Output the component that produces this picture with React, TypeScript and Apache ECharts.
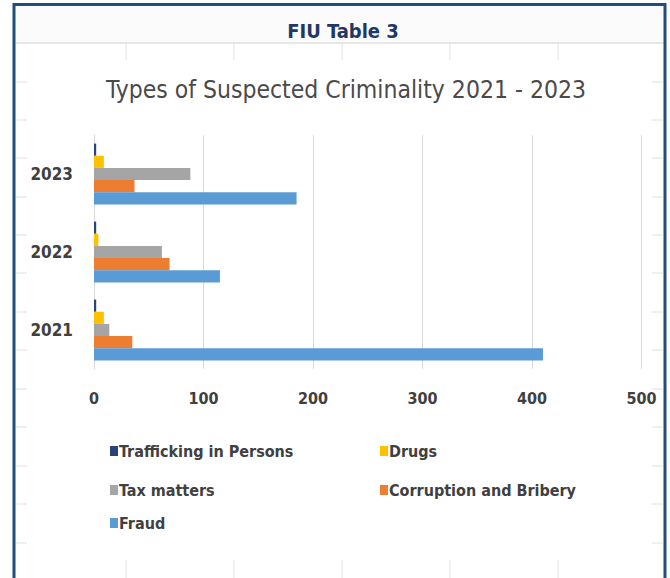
import React, { useEffect, useRef } from "react";
import * as echarts from "echarts";

const years = ["2021", "2022", "2023"];
const seriesNames = ["Trafficking in Persons", "Drugs", "Tax matters", "Corruption and Bribery", "Fraud"];
const trafficking = [2, 2, 2];
const drugs = [9, 4, 9];
const taxMatters = [14, 62, 88];
const corruption = [35, 69, 37];
const fraud = [410, 115, 185];
const xTicks = [0, 100, 200, 300, 400, 500];
const colors = ["#264478", "#FFC000", "#A5A5A5", "#ED7D31", "#5B9BD5"];

const FONT = "'DejaVu Sans Condensed', 'Liberation Sans Narrow', sans-serif";

export default function App() {
  const ref = useRef<HTMLDivElement>(null);
  useEffect(() => {
    if (!ref.current) return;
    const chart = echarts.init(ref.current, null, { renderer: "svg" });
    const values = [trafficking, drugs, taxMatters, corruption, fraud];
    const colXs = [126, 234, 342, 450, 558];
    const rowYs = [82, 120, 158, 197, 235, 273, 312, 350, 389, 427, 466, 504, 543];
    const bg: any[] = [];
    colXs.forEach((x) => {
      bg.push({ type: "line", shape: { x1: x, y1: 43, x2: x, y2: 60 }, style: { stroke: "#e0e0e0", lineWidth: 1 }, silent: true });
      bg.push({ type: "line", shape: { x1: x, y1: 560, x2: x, y2: 578 }, style: { stroke: "#e0e0e0", lineWidth: 1 }, silent: true });
    });
    rowYs.forEach((y) => {
      bg.push({ type: "line", shape: { x1: 16, y1: y, x2: 27, y2: y }, style: { stroke: "#e0e0e0", lineWidth: 1 }, silent: true });
      bg.push({ type: "line", shape: { x1: 652, y1: y, x2: 663, y2: y }, style: { stroke: "#e0e0e0", lineWidth: 1 }, silent: true });
    });
    const legendPos = [
      { left: 110, top: 443 },
      { left: 380, top: 443 },
      { left: 110, top: 482 },
      { left: 380, top: 482 },
      { left: 110, top: 515 },
    ];
    chart.setOption({
      animation: false,
      backgroundColor: "#ffffff",
      title: [
        {
          text: "FIU Table 3",
          left: 338,
          top: 16,
          textAlign: "center",
          textStyle: { fontFamily: FONT, fontSize: 20, fontWeight: "bold", color: "#1F3864" },
        },
        {
          text: "Types of Suspected Criminality 2021 - 2023",
          left: 341,
          top: 72,
          textAlign: "center",
          textStyle: { fontFamily: FONT, fontSize: 24.5, fontWeight: "normal", color: "#4a4a4a" },
        },
      ],
      graphic: [
        { type: "rect", shape: { x: 16, y: 6, width: 648, height: 37 }, style: { fill: "#fbfbfb" }, silent: true, z: -10 },
        { type: "line", shape: { x1: 16, y1: 43, x2: 664, y2: 43 }, style: { stroke: "#d0d0d0", lineWidth: 1 }, silent: true },
        ...bg,
        { type: "polyline", shape: { points: [[14, 578], [14, 4.5], [665, 4.5], [665, 578]] }, style: { stroke: "#1F4E79", lineWidth: 3, fill: null }, silent: true, z: 100 },
      ],
      legend: seriesNames.map((n, i) => ({
        data: [n],
        left: legendPos[i].left,
        top: legendPos[i].top,
        icon: "rect",
        itemWidth: 8,
        itemHeight: 10,
        itemGap: 4,
        padding: 0,
        textStyle: { fontFamily: FONT, fontSize: 16, fontWeight: "bold", color: "#404040", padding: [0, 0, 0, -4] },
      })),
      grid: { left: 94, right: 28.5, top: 135, bottom: 209, containLabel: false },
      xAxis: {
        type: "value",
        min: xTicks[0],
        max: xTicks[xTicks.length - 1],
        interval: 100,
        axisLine: { show: false },
        axisTick: { show: false },
        splitLine: { show: true, lineStyle: { color: "#d9d9d9", width: 1 } },
        axisLabel: { fontFamily: FONT, fontSize: 16, fontWeight: "bold", color: "#404040", margin: 21 },
      },
      yAxis: {
        type: "category",
        data: years,
        axisLine: { show: true, lineStyle: { color: "#d9d9d9" } },
        axisTick: { show: false },
        axisLabel: { fontFamily: FONT, fontSize: 17, fontWeight: "bold", color: "#404040", margin: 21 },
      },
      series: seriesNames.map((n, i) => ({
        name: n,
        type: "bar",
        data: values[i],
        barGap: "0%",
        barCategoryGap: "22%",
        itemStyle: { color: colors[i] },
      })),
    });
    return () => chart.dispose();
  }, []);
  return <div ref={ref} style={{ position: "fixed", left: 0, top: 0, width: 670, height: 578 }} />;
}
